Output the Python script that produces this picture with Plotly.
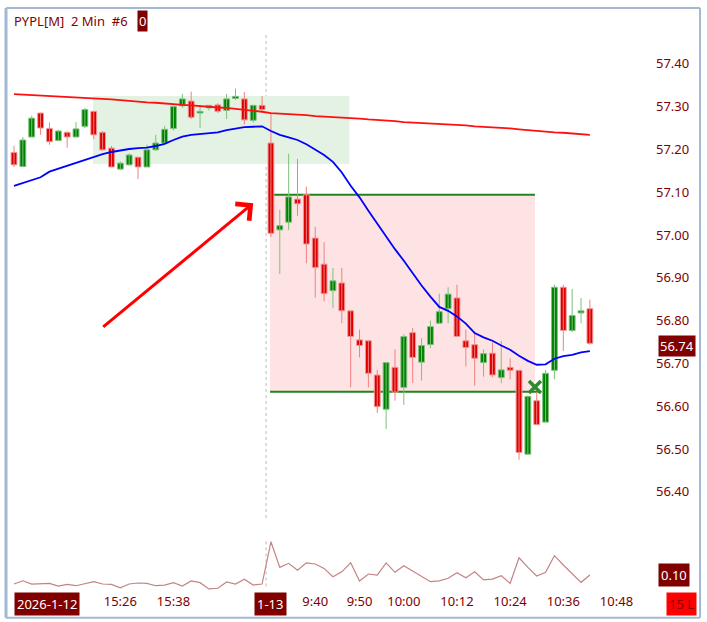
import plotly.graph_objects as go

# ---------------- data ----------------
opens = [57.193, 57.160, 57.229, 57.285, 57.249, 57.221, 57.240, 57.229, 57.254, 57.289,
         57.240, 57.203, 57.154, 57.164, 57.182, 57.159, 57.199, 57.215, 57.249, 57.302,
         57.313, 57.285, 57.297, 57.304, 57.291, 57.319, 57.318, 57.268, 57.303,
         57.215, 57.012, 57.030, 57.084, 57.094, 56.993, 56.932, 56.870, 56.888, 56.823,
         56.755, 56.753, 56.673, 56.593, 56.691, 56.644, 56.772, 56.703, 56.744, 56.794,
         56.828, 56.853, 56.753, 56.744, 56.702, 56.724, 56.667, 56.691, 56.684, 56.488,
         56.613, 56.563, 56.684, 56.878, 56.777, 56.818, 56.828]
highs = [57.208, 57.229, 57.279, 57.286, 57.263, 57.246, 57.242, 57.264, 57.297, 57.290,
         57.243, 57.208, 57.172, 57.191, 57.182, 57.211, 57.234, 57.255, 57.302, 57.330,
         57.335, 57.302, 57.304, 57.308, 57.330, 57.342, 57.334, 57.304, 57.325,
         57.285, 57.059, 57.190, 57.178, 57.113, 57.019, 56.983, 56.923, 56.923, 56.823,
         56.779, 56.753, 56.685, 56.702, 56.733, 56.768, 56.783, 56.759, 56.800, 56.863,
         56.878, 56.884, 56.779, 56.775, 56.733, 56.749, 56.753, 56.712, 56.684, 56.625,
         56.634, 56.685, 56.884, 56.884, 56.874, 56.853, 56.849]
lows = [57.159, 57.159, 57.229, 57.234, 57.211, 57.219, 57.204, 57.229, 57.250, 57.224,
        57.197, 57.159, 57.152, 57.162, 57.131, 57.159, 57.197, 57.213, 57.244, 57.297,
        57.271, 57.250, 57.291, 57.285, 57.271, 57.316, 57.258, 57.263, 57.289,
        56.995, 56.909, 57.012, 57.045, 56.934, 56.854, 56.845, 56.829, 56.794, 56.644,
        56.714, 56.644, 56.584, 56.547, 56.613, 56.603, 56.654, 56.660, 56.736, 56.794,
        56.794, 56.763, 56.693, 56.648, 56.669, 56.668, 56.654, 56.663, 56.475, 56.487,
        56.557, 56.563, 56.663, 56.729, 56.773, 56.794, 56.744]
closes = [57.164, 57.222, 57.273, 57.250, 57.218, 57.243, 57.229, 57.248, 57.293, 57.234,
          57.199, 57.159, 57.168, 57.187, 57.159, 57.199, 57.215, 57.247, 57.300, 57.318,
          57.275, 57.289, 57.303, 57.289, 57.318, 57.324, 57.269, 57.303, 57.293,
          57.004, 57.022, 57.089, 57.073, 56.979, 56.924, 56.863, 56.893, 56.823, 56.763,
          56.742, 56.677, 56.599, 56.702, 56.633, 56.763, 56.714, 56.742, 56.786, 56.821,
          56.862, 56.763, 56.737, 56.712, 56.723, 56.673, 56.685, 56.684, 56.492, 56.623,
          56.557, 56.677, 56.878, 56.777, 56.812, 56.823, 56.747]

ma_slow = [57.329, 57.328, 57.327, 57.326, 57.325, 57.324, 57.323, 57.322, 57.321, 57.320,
           57.318, 57.317, 57.315, 57.313, 57.312, 57.310, 57.309, 57.307, 57.306, 57.304,
           57.303, 57.301, 57.300, 57.298, 57.297, 57.295, 57.293, 57.290, 57.288, 57.285,
           57.284, 57.282, 57.281, 57.280, 57.278, 57.277, 57.276, 57.274, 57.273, 57.272,
           57.270, 57.269, 57.268, 57.266, 57.264, 57.263, 57.262, 57.260, 57.259, 57.258,
           57.257, 57.256, 57.254, 57.253, 57.252, 57.250, 57.249, 57.247, 57.245, 57.244,
           57.242, 57.240, 57.239, 57.237, 57.236, 57.234]
ma_fast = [57.115, 57.122, 57.128, 57.135, 57.148, 57.155, 57.162, 57.169, 57.176, 57.183,
           57.189, 57.194, 57.198, 57.201, 57.203, 57.204, 57.208, 57.213, 57.222, 57.230,
           57.234, 57.236, 57.239, 57.240, 57.245, 57.249, 57.252, 57.253, 57.254, 57.243,
           57.234, 57.228, 57.222, 57.212, 57.200, 57.187, 57.171, 57.146, 57.115, 57.088,
           57.057, 57.026, 56.996, 56.967, 56.940, 56.911, 56.882, 56.856, 56.832, 56.823,
           56.810, 56.793, 56.771, 56.761, 56.753, 56.742, 56.732, 56.718, 56.706, 56.697,
           56.698, 56.711, 56.717, 56.720, 56.726, 56.729]
indicator = [0.047, 0.066, 0.047, 0.051, 0.051, 0.035, 0.045, 0.037, 0.047, 0.061,
             0.047, 0.045, 0.025, 0.047, 0.053, 0.051, 0.037, 0.041, 0.055, 0.035,
             0.065, 0.055, 0.018, 0.022, 0.059, 0.047, 0.075, 0.041, 0.047, 0.296,
             0.145, 0.169, 0.129, 0.172, 0.165, 0.139, 0.090, 0.119, 0.172, 0.065,
             0.106, 0.100, 0.172, 0.116, 0.155, 0.125, 0.094, 0.061, 0.066, 0.081,
             0.114, 0.084, 0.119, 0.071, 0.076, 0.096, 0.051, 0.202, 0.145, 0.094,
             0.116, 0.214, 0.159, 0.106, 0.057, 0.100]

tick_idx = [12, 18, 34, 39, 44, 50, 56, 62, 68]
tick_text = ["15:26", "15:38", "9:40", "9:50", "10:00", "10:12", "10:24", "10:36", "10:48"]
price_ticks = [56.40, 56.50, 56.60, 56.70, 56.80, 56.90, 57.00, 57.10, 57.20, 57.30, 57.40]

box_top, box_bottom = 57.094, 56.634
consol_top, consol_bottom = 57.325, 57.166
signal_price = 56.645
last_price_label = "56.74"
indicator_label = "0.10"

# ---------------- build ----------------
n = len(opens)
xs = list(range(n))
DARK = "#800000"
FONT = "Noto Sans"

fig = go.Figure()

# wicks
for up, col in ((True, "#7cc27c"), (False, "#f08080")):
    wx, wy = [], []
    for i in xs:
        if (closes[i] >= opens[i]) == up:
            wx += [i, i, None]
            wy += [lows[i], highs[i], None]
    fig.add_trace(go.Scatter(x=wx, y=wy, mode="lines", line=dict(color=col, width=1),
                             hoverinfo="skip", showlegend=False, yaxis="y"))

# bodies
base = [min(o, c) for o, c in zip(opens, closes)]
height = [max(abs(c - o), 0.003) for o, c in zip(opens, closes)]
colors = ["#008000" if c >= o else "#dd0000" for o, c in zip(opens, closes)]
edge = ["#80c080" if c >= o else "#f29a9a" for o, c in zip(opens, closes)]
fig.add_trace(go.Bar(x=xs, y=height, base=base, width=0.66,
                     marker=dict(color=colors, line=dict(color=edge, width=1)),
                     showlegend=False, yaxis="y", hoverinfo="skip"))

fig.add_trace(go.Scatter(x=xs, y=ma_slow, mode="lines", line=dict(color="#ff1010", width=1.8),
                         showlegend=False, yaxis="y"))
fig.add_trace(go.Scatter(x=xs, y=ma_fast, mode="lines", line=dict(color="#0000ff", width=1.8),
                         showlegend=False, yaxis="y"))

fig.add_trace(go.Scatter(x=[58.8], y=[signal_price], mode="markers",
                         marker=dict(symbol="x-thin-open", size=12, color="#2e8b2e",
                                     line=dict(color="#2e8b2e", width=3.5)),
                         showlegend=False, yaxis="y"))

fig.add_trace(go.Scatter(x=xs, y=indicator, mode="lines", line=dict(color="#c48484", width=1.2),
                         showlegend=False, yaxis="y2"))

shapes = [
    dict(type="rect", xref="x", yref="y", x0=8.92, x1=37.85, y0=consol_bottom, y1=consol_top,
         fillcolor="#e4f2e4", line=dict(width=0), layer="below"),
    dict(type="rect", xref="x", yref="y", x0=28.9, x1=58.8, y0=box_bottom, y1=box_top,
         fillcolor="#fde3e3", line=dict(width=0), layer="below"),
    dict(type="line", xref="x", yref="y", x0=28.9, x1=58.8, y0=box_top, y1=box_top,
         line=dict(color="#1f861f", width=2), layer="below"),
    dict(type="line", xref="x", yref="y", x0=28.9, x1=59.4, y0=box_bottom, y1=box_bottom,
         line=dict(color="#1f861f", width=2), layer="below"),
    dict(type="line", xref="x", yref="paper", x0=28.45, x1=28.45, y0=0.1317, y1=0.995,
         line=dict(color="#bbbbbb", width=1, dash="dot"), layer="below"),
    dict(type="line", xref="x", yref="paper", x0=28.45, x1=28.45, y0=0.01, y1=0.092,
         line=dict(color="#bbbbbb", width=1, dash="dot"), layer="below"),
    # frame
    dict(type="line", xref="paper", yref="paper", x0=-0.0031, x1=-0.0031, y0=-0.046, y1=1.039,
         line=dict(color="#a3b9d3", width=3)),
    dict(type="line", xref="paper", yref="paper", x0=-0.0031, x1=1.0696, y0=1.039, y1=1.039,
         line=dict(color="#a3b9d3", width=2)),
    dict(type="line", xref="paper", yref="paper", x0=1.0696, x1=1.0696, y0=-0.046, y1=1.039,
         line=dict(color="#a3b9d3", width=2)),
    dict(type="line", xref="paper", yref="paper", x0=-0.0031, x1=1.0696, y0=-0.046, y1=-0.046,
         line=dict(color="#a3b9d3", width=2)),
]

annotations = [
    dict(x=27.0, y=57.0745, ax=9.9, ay=56.7825, xref="x", yref="y", axref="x", ayref="y",
         text="", showarrow=True, arrowhead=4, arrowsize=1.4, arrowwidth=3,
         arrowcolor="#ff0000", standoff=0),
    dict(x=0.0062, y=1.016, xref="paper", yref="paper", xanchor="left", yanchor="middle",
         text="PYPL[M]&nbsp; 2 Min&nbsp; #6", showarrow=False,
         font=dict(family=FONT, size=13, color=DARK)),
    dict(x=0.1994, y=1.016, xref="paper", yref="paper", xanchor="left", yanchor="middle",
         text="0", showarrow=False, bgcolor=DARK, borderpad=1,
         font=dict(family=FONT, size=13, color="white")),
    dict(x=0.061, y=-0.0214, xref="paper", yref="paper", xanchor="center", yanchor="middle",
         text="2026-1-12", showarrow=False, bgcolor=DARK, borderpad=2,
         font=dict(family=FONT, size=13, color="white")),
    dict(x=29, y=-0.0214, xref="x", yref="paper", xanchor="center", yanchor="middle",
         text="1-13", showarrow=False, bgcolor=DARK, borderpad=2,
         font=dict(family=FONT, size=13, color="white")),
    dict(x=1.0405, y=-0.0214, xref="paper", yref="paper", xanchor="center", yanchor="middle",
         text="15 L", showarrow=False, bgcolor="#ff0000", borderpad=2,
         font=dict(family=FONT, size=13, color="#8b0000")),
    dict(x=1.0046, y=float(last_price_label), xref="paper", yref="y", xanchor="left",
         yanchor="middle", text=last_price_label, showarrow=False, bgcolor=DARK, borderpad=1,
         font=dict(family=FONT, size=13, color="white")),
    dict(x=1.0046, y=float(indicator_label), xref="paper", yref="y2", xanchor="left",
         yanchor="middle", text=indicator_label, showarrow=False, bgcolor=DARK, borderpad=2,
         font=dict(family=FONT, size=13, color="white")),
]

fig.update_layout(
    width=707, height=622,
    margin=dict(l=8, r=52, t=30, b=30),
    paper_bgcolor="white", plot_bgcolor="white",
    barmode="overlay", showlegend=False, hovermode=False,
    font=dict(family=FONT, size=13, color=DARK),
    xaxis=dict(range=[-0.677, 72.35], anchor="y2", showgrid=False, zeroline=False,
               showline=False, ticks="", tickvals=tick_idx, ticktext=tick_text,
               tickfont=dict(family=FONT, size=13, color=DARK)),
    yaxis=dict(domain=[0.1317, 1], range=[56.339, 57.479], side="right", showgrid=False,
               zeroline=False, showline=False, ticks="", tickvals=price_ticks,
               tickformat=".2f", tickfont=dict(family=FONT, size=13, color=DARK)),
    yaxis2=dict(domain=[0, 0.096], range=[0, 0.318], showgrid=False, zeroline=False,
                showline=False, showticklabels=False, ticks=""),
    shapes=shapes, annotations=annotations,
)

fig.write_html("out.html", config={"displayModeBar": False},
               post_script="document.body.style.margin='0';")
